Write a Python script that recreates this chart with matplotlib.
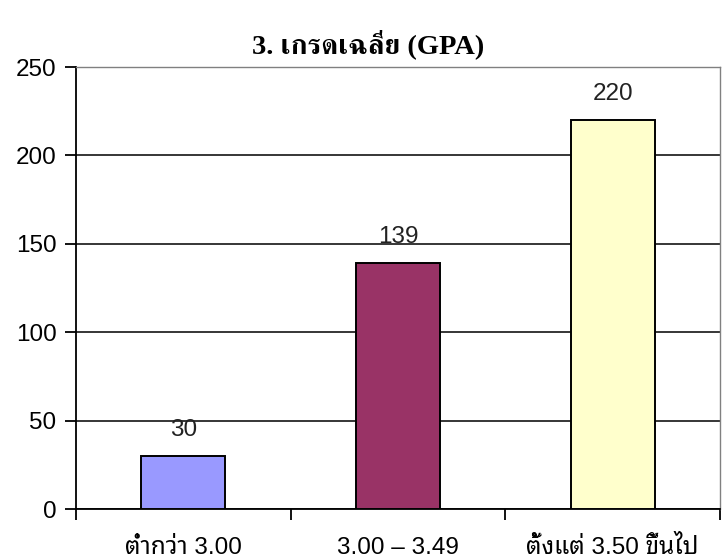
import matplotlib
matplotlib.use('Agg')
import matplotlib.pyplot as plt

# GPA groups and number of students
categories = ['ต่ำกว่า 3.00', '3.00 – 3.49', 'ตั้งแต่ 3.50 ขึ้นไป']
counts = [30, 139, 220]
bar_colors = ['#9999FF', '#993366', '#FFFFCC']
yticks = [0, 50, 100, 150, 200, 250]
title = '3. เกรดเฉลี่ย (GPA)'

sans = ['Liberation Sans', 'Noto Sans Thai Looped', 'DejaVu Sans']
serif = ['Liberation Serif', 'FreeSerif', 'Noto Serif Thai', 'DejaVu Serif']

fig = plt.figure(figsize=(7.22, 5.6), dpi=100)
ax = fig.add_axes([76 / 722, 1 - 509 / 560, (720 - 76) / 722, (509 - 67) / 560])

x = list(range(len(categories)))
bars = ax.bar(x, counts, width=0.39, color=bar_colors, edgecolor='black', linewidth=1.4, zorder=3)

for b, v in zip(bars, counts):
    ax.text(b.get_x() + b.get_width() / 2, v + 8.5, str(v), ha='center', va='bottom',
            fontsize=17.5, family=sans, color='#222222')

ax.set_xlim(-0.5, len(categories) - 0.5)
ax.set_ylim(0, 250)
ax.set_yticks(yticks)
ax.set_yticklabels([str(t) for t in yticks], family=sans, fontsize=17.5)
ax.yaxis.grid(True, color='black', linewidth=1.1, zorder=0)

# boundary ticks between categories, like Excel
ax.set_xticks([i - 0.5 for i in range(len(categories) + 1)])
ax.set_xticklabels([])
ax.tick_params(axis='x', length=8, width=1.3, direction='out')
ax.tick_params(axis='y', length=8, width=1.3, direction='out', pad=6)

# category names, baseline just above the bottom edge
for i, name in enumerate(categories):
    ax.text(i, -45 / 442, name, transform=ax.get_xaxis_transform(), ha='center',
            va='baseline', fontsize=17.5, family=sans, clip_on=False)

for side in ['left', 'bottom']:
    ax.spines[side].set_color('black')
    ax.spines[side].set_linewidth(1.3)
for side in ['top', 'right']:
    ax.spines[side].set_color('#808080')
    ax.spines[side].set_linewidth(1.0)

fig.text(368 / 722, 1 - 53 / 560, title, ha='center', va='baseline',
         fontsize=20.5, fontweight='bold', family=serif)

fig.savefig('out.png', dpi=100)
